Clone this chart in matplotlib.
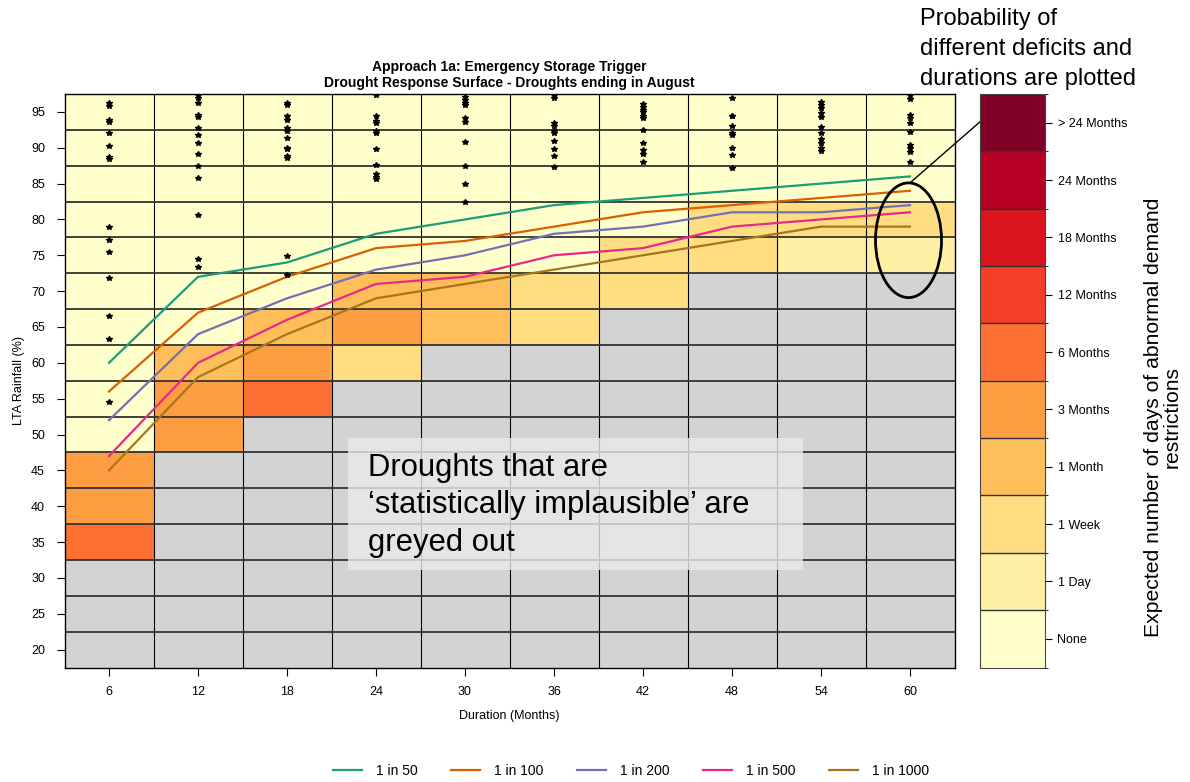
import numpy as np
import matplotlib
matplotlib.use('Agg')
import matplotlib.pyplot as plt
from matplotlib.colors import ListedColormap, BoundaryNorm
from matplotlib.patches import Ellipse, Rectangle
from matplotlib.cm import ScalarMappable

plt.rcParams['font.family'] = ['Liberation Sans', 'DejaVu Sans']

durations = [6, 12, 18, 24, 30, 36, 42, 48, 54, 60]
rainfall = [95, 90, 85, 80, 75, 70, 65, 60, 55, 50, 45, 40, 35, 30, 25, 20]

level_labels = ['None', '1 Day', '1 Week', '1 Month', '3 Months',
                '6 Months', '12 Months', '18 Months', '24 Months',
                '> 24 Months']

# response class per cell (rows = rainfall, top row first); None = implausible
G = None
response = [
    [0, 0, 0, 0, 0, 0, 0, 0, 0, 0],
    [0, 0, 0, 0, 0, 0, 0, 0, 0, 0],
    [0, 0, 0, 0, 0, 0, 0, 0, 0, 0],
    [0, 0, 0, 0, 0, 0, 0, 2, 2, 2],
    [0, 0, 0, 0, 0, 0, 2, 2, 1, 1],
    [0, 0, 0, 3, 3, 2, 2, G, G, G],
    [0, 0, 3, 4, 3, 2, G, G, G, G],
    [0, 3, 4, 2, G, G, G, G, G, G],
    [0, 4, 5, G, G, G, G, G, G, G],
    [0, 4, G, G, G, G, G, G, G, G],
    [4, G, G, G, G, G, G, G, G, G],
    [4, G, G, G, G, G, G, G, G, G],
    [5, G, G, G, G, G, G, G, G, G],
    [G, G, G, G, G, G, G, G, G, G],
    [G, G, G, G, G, G, G, G, G, G],
    [G, G, G, G, G, G, G, G, G, G],
]

return_periods = ['1 in 50', '1 in 100', '1 in 200', '1 in 500', '1 in 1000']
rp_colours = ['#1B9E77', '#D95F02', '#7570B3', '#E7298A', '#A6761D']
rp_50 = [60, 72, 74, 78, 80, 82, 83, 84, 85, 86]
rp_100 = [56, 67, 72, 76, 77, 79, 81, 82, 83, 84]
rp_200 = [52, 64, 69, 73, 75, 78, 79, 81, 81, 82]
rp_500 = [47, 60, 66, 71, 72, 75, 76, 79, 80, 81]
rp_1000 = [45, 58, 64, 69, 71, 73, 75, 77, 79, 79]

# historic / stochastic droughts plotted as stars, by duration
events = {
    6: [96.2, 95.8, 93.9, 93.6, 92.1, 90.2, 88.7, 88.4, 78.9, 77.1, 75.4,
        71.9, 66.5, 63.3, 54.6],
    12: [97.4, 97.0, 96.2, 94.6, 94.3, 92.8, 91.8, 90.6, 89.1, 87.4, 85.8,
         80.6, 74.5, 73.4],
    18: [96.3, 95.9, 94.4, 93.9, 92.7, 92.4, 91.4, 90.0, 89.8, 88.9, 88.6,
         74.9, 72.2],
    24: [97.4, 94.5, 93.8, 93.4, 92.4, 92.1, 89.8, 87.6, 86.3, 85.9, 85.6],
    30: [97.1, 96.6, 96.3, 95.9, 94.1, 93.6, 90.8, 87.4, 84.9, 82.4],
    36: [97.3, 96.9, 93.5, 93.1, 92.4, 92.1, 91.0, 89.8, 88.8, 87.3],
    42: [96.1, 95.7, 95.3, 95.0, 94.5, 94.1, 92.5, 90.7, 89.7, 89.2, 88.0],
    48: [97.0, 94.5, 94.4, 93.0, 92.0, 91.8, 89.9, 89.0, 87.2],
    54: [96.4, 96.0, 95.5, 94.9, 94.3, 92.9, 92.0, 91.2, 90.6, 89.9, 89.6],
    60: [97.3, 96.8, 94.6, 94.1, 93.4, 92.2, 90.4, 89.9, 89.4, 88.0],
}

W, H = 1190, 782
fig = plt.figure(figsize=(W / 100, H / 100), dpi=100)
ax = fig.add_axes([64.5 / W, 1 - 667.5 / H, 890 / W, 573.5 / H])

colours = plt.cm.YlOrRd(np.linspace(0, 1, 10))
cmap = ListedColormap(colours)
cmap.set_bad('#D3D3D3')
norm = BoundaryNorm(np.arange(-0.5, 10.5, 1), 10)

z = np.array([[np.nan if v is None else v for v in row] for row in response],
             dtype=float)[::-1]
z = np.ma.masked_invalid(z)
x_edges = np.arange(3, 64, 6)
y_edges = np.arange(17.5, 98, 5)
ax.pcolormesh(x_edges, y_edges, z, cmap=cmap, norm=norm)

for xe in x_edges[1:-1]:
    ax.axvline(xe, color='black', lw=0.8, zorder=2)
for ye in y_edges[1:-1]:
    ax.axhline(ye, color='#333333', lw=1.3, zorder=2)

for name, col, vals in zip(return_periods, rp_colours,
                           [rp_50, rp_100, rp_200, rp_500, rp_1000]):
    ax.plot(durations, vals, color=col, lw=1.6, label=name, zorder=3)

for d, ys in events.items():
    ax.plot([d] * len(ys), ys, ls='none', marker='*', color='black',
            markersize=4.2, zorder=4)

ax.set_xlim(3, 63)
ax.set_ylim(17.5, 97.5)
ax.set_xticks(durations)
ax.set_yticks(rainfall)
ax.tick_params(direction='out', length=6, labelsize=9, pad=8)
ax.tick_params(axis='x', pad=7)
for s in ax.spines.values():
    s.set_linewidth(1.0)
ax.set_xlabel('Duration (Months)', fontsize=9, labelpad=9)
ax.set_ylabel('LTA Rainfall (%)', fontsize=9, labelpad=4)
ax.set_title('Approach 1a: Emergency Storage Trigger\n'
             'Drought Response Surface - Droughts ending in August',
             fontsize=10, fontweight='bold', pad=5, linespacing=1.2)

# greyed-out note
ax.add_patch(Rectangle((0.3185, 0.17), 0.5115, 0.23, transform=ax.transAxes,
                       facecolor='#EAEAEA', edgecolor='none', alpha=0.8,
                       zorder=5))
ax.text(0.341, 0.283, 'Droughts that are\n\u2018statistically implausible\u2019 are\n'
        'greyed out', transform=ax.transAxes, fontsize=22.3, va='center',
        ha='left', linespacing=1.32, zorder=6)

# highlight ellipse and its pointer
ax.add_patch(Ellipse((59.9, 77.1), 4.45, 16.0, fill=False, lw=2,
                     edgecolor='black', zorder=6, clip_on=False))
ax.annotate('', xy=(60, 85.1), xytext=(1009 / W, 1 - 96.5 / H),
            textcoords='figure fraction',
            arrowprops=dict(arrowstyle='-', color='black', lw=1,
                            shrinkA=0, shrinkB=0), zorder=6)
fig.text(920 / W, 1 - 49 / H, 'Probability of\ndifferent deficits and\n'
         'durations are plotted', fontsize=17, ha='left', va='center',
         linespacing=1.5)

# colour key
cax = fig.add_axes([980 / W, 1 - 667.5 / H, 65 / W, 573.5 / H])
sm = ScalarMappable(norm=norm, cmap=cmap)
cb = fig.colorbar(sm, cax=cax, ticks=range(10), drawedges=True)
cb.ax.set_yticklabels(level_labels)
cb.ax.tick_params(length=5, labelsize=9, pad=4)
cb.outline.set_edgecolor('#444444')
cb.dividers.set_color('#333333')
cb.dividers.set_linewidth(1)
fig.text(1163 / W, 1 - 417 / H,
         'Expected number of days of abnormal demand\nrestrictions',
         rotation=90, fontsize=15.2, ha='center', va='center',
         multialignment='center', linespacing=1.0)

fig.legend(loc='center', bbox_to_anchor=(631 / W, 1 - 771 / H), ncol=5,
           frameon=False, fontsize=10, handlelength=2.1, handletextpad=1.0,
           columnspacing=2.4)

fig.savefig('out.png', dpi=100)
